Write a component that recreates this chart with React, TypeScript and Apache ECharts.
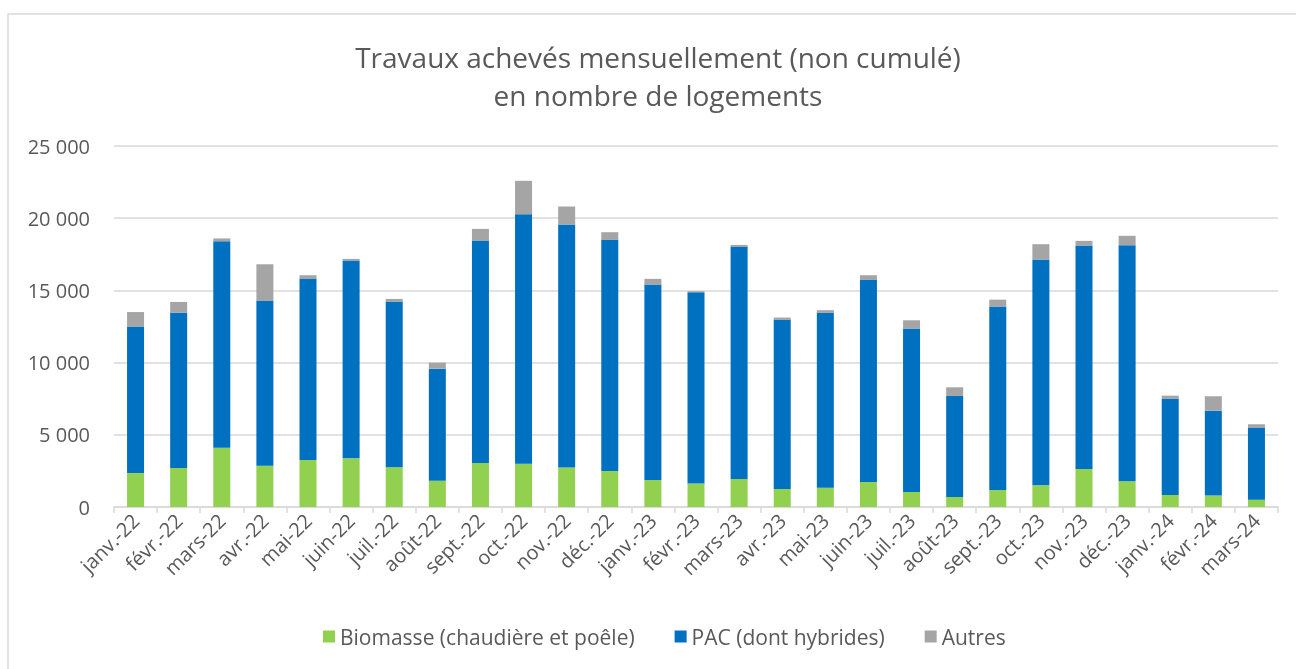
import React, { useEffect, useRef } from "react";
import * as echarts from "echarts";

const categories = [
  "janv.-22", "févr.-22", "mars-22", "avr.-22", "mai-22", "juin-22", "juil.-22", "août-22", "sept.-22",
  "oct.-22", "nov.-22", "déc.-22", "janv.-23", "févr.-23", "mars-23", "avr.-23", "mai-23", "juin-23",
  "juil.-23", "août-23", "sept.-23", "oct.-23", "nov.-23", "déc.-23", "janv.-24", "févr.-24", "mars-24",
];

const biomasse = [
  2350, 2700, 4100, 2860, 3260, 3370, 2750, 1820, 3050,
  3000, 2730, 2490, 1870, 1620, 1940, 1250, 1340, 1730,
  1040, 690, 1180, 1500, 2630, 1780, 830, 790, 510,
];

const pac = [
  10150, 10750, 14300, 11440, 12560, 13700, 11480, 7760, 15400,
  17280, 16830, 16030, 13530, 13250, 16100, 11730, 12100, 14020,
  11320, 7000, 12700, 15640, 15480, 16350, 6680, 5880, 4990,
];

const autres = [
  1000, 750, 200, 2510, 230, 110, 180, 420, 810,
  2310, 1250, 510, 400, 70, 110, 140, 190, 300,
  570, 600, 480, 1060, 320, 650, 200, 1000, 230,
];

const seriesNames = ["Biomasse (chaudière et poêle)", "PAC (dont hybrides)", "Autres"];
const titleLines = ["Travaux achevés mensuellement (non cumulé)", "en nombre de logements"];

const FONT = "'Open Sans', sans-serif";
const TXT = "#595959";
const GRID = "#d9d9d9";

export default function App() {
  const ref = useRef<HTMLDivElement>(null);
  useEffect(() => {
    if (!ref.current) return;
    const chart = echarts.init(ref.current, null, { renderer: "svg" });
    const fmt = (v: number) => (v === 0 ? "0" : String(v).replace(/\B(?=(\d{3})+(?!\d))/g, " "));
    const mk = (name: string, data: number[], color: string) => ({
      name,
      type: "bar",
      stack: "total",
      data,
      barWidth: 17,
      itemStyle: { color },
    });
    chart.setOption({
      animation: false,
      textStyle: { fontFamily: FONT },
      graphic: [
        {
          type: "rect",
          shape: { x: 8, y: 14, width: 1320, height: 700 },
          style: { fill: "none", stroke: GRID, lineWidth: 1.5 },
          silent: true,
        },
        {
          type: "text",
          x: 658,
          y: 57,
          style: {
            text: titleLines[0],
            fontFamily: FONT,
            fontSize: 28,
            fill: TXT,
            textAlign: "center",
            textVerticalAlign: "middle",
          },
        },
        {
          type: "text",
          x: 658,
          y: 95,
          style: {
            text: titleLines[1],
            fontFamily: FONT,
            fontSize: 28,
            fill: TXT,
            textAlign: "center",
            textVerticalAlign: "middle",
          },
        },
      ],
      legend: {
        data: seriesNames,
        left: 318,
        top: 621,
        itemWidth: 12,
        itemHeight: 12,
        itemGap: 40,
        icon: "rect",
        textStyle: { fontFamily: FONT, fontSize: 21, color: TXT },
      },
      grid: { left: 114, right: 18, top: 146, bottom: 162, containLabel: false },
      xAxis: {
        type: "category",
        data: categories,
        axisLine: { lineStyle: { color: GRID, width: 1.5 } },
        axisTick: { show: true, length: 6, lineStyle: { color: GRID, width: 1.5 } },
        axisLabel: {
          rotate: 45,
          interval: 0,
          color: TXT,
          fontSize: 20,
          fontFamily: FONT,
          margin: 10,
        },
      },
      yAxis: {
        type: "value",
        min: 0,
        max: 25000,
        interval: 5000,
        axisLine: { show: false },
        axisTick: { show: false },
        splitLine: { lineStyle: { color: GRID, width: 1.5 } },
        axisLabel: { color: TXT, fontSize: 20, fontFamily: FONT, margin: 24, formatter: fmt },
      },
      series: [
        mk(seriesNames[0], biomasse, "#92D050"),
        mk(seriesNames[1], pac, "#0070C0"),
        mk(seriesNames[2], autres, "#A5A5A5"),
      ],
    });
    return () => chart.dispose();
  }, []);
  return <div ref={ref} style={{ position: "fixed", left: 0, top: 0, width: 1296, height: 669 }} />;
}
